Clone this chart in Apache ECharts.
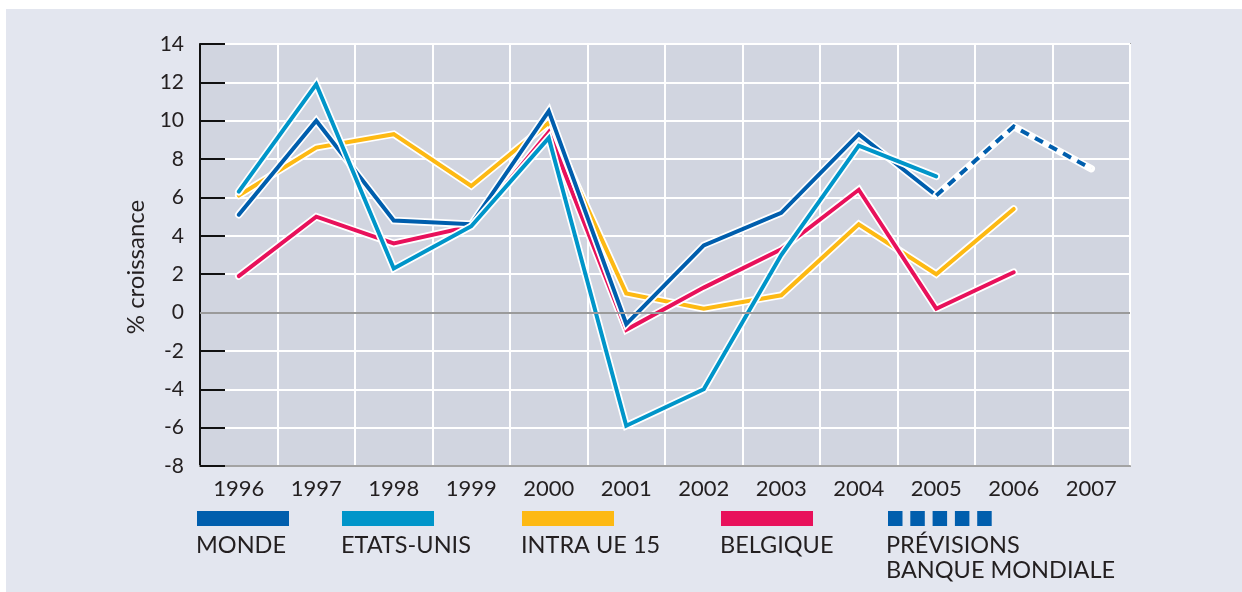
<!DOCTYPE html>
<html>
<head>
<meta charset="utf-8">
<script src="https://cdn.jsdelivr.net/npm/echarts@6/dist/echarts.min.js"></script>
<style>
  html, body { margin: 0; padding: 0; background: #fff; }
  #chart { width: 1242px; height: 592px; }
</style>
</head>
<body>
<div id="chart"></div>
<script>
const years = ["1996", "1997", "1998", "1999", "2000", "2001", "2002", "2003", "2004", "2005", "2006", "2007"];
const monde = [5.1, 10.0, 4.8, 4.6, 10.5, -0.6, 3.5, 5.2, 9.3, 6.1];
const etatsUnis = [6.3, 11.9, 2.3, 4.5, 9.1, -5.9, -4.0, 3.0, 8.7, 7.1];
const intraUe15 = [6.1, 8.6, 9.3, 6.6, 9.9, 1.0, 0.2, 0.9, 4.6, 2.0, 5.4];
const belgique = [1.9, 5.0, 3.6, 4.5, 9.4, -0.9, 1.3, 3.3, 6.4, 0.2, 2.1];
// prévisions Banque mondiale (monde) 2005-2007
const previsions = [6.1, 9.7, 7.5];
const previsionsStart = 9;
const yTicks = [-8, -6, -4, -2, 0, 2, 4, 6, 8, 10, 12, 14];

const FONT = "Lato, 'Open Sans', sans-serif";
const colors = {
  monde: "#005ead",
  etats: "#0095c9",
  intra: "#fdb913",
  belg: "#e8115b",
};

const prevData = years.map((y, i) =>
  i >= previsionsStart && i < previsionsStart + previsions.length ? previsions[i - previsionsStart] : null
);

function halo(data) {
  return {
    type: "line", data, symbol: "none", silent: true, connectNulls: false,
    lineStyle: { color: "#fff", width: 7.5, join: "miter", cap: "round" },
  };
}
function line(data, color, dashed) {
  return {
    type: "line", data, symbol: "none", silent: true,
    lineStyle: { color, width: 4, join: "miter", cap: dashed ? "butt" : "round", type: dashed ? [9, 7] : "solid" },
  };
}

const chart = echarts.init(document.getElementById("chart"));

// legend drawn as graphic: colored bar above label
const legendItems = [
  { x: 197, color: colors.monde, label: "MONDE" },
  { x: 342, color: colors.etats, label: "ETATS-UNIS" },
  { x: 522, color: colors.intra, label: "INTRA UE 15" },
  { x: 721, color: colors.belg, label: "BELGIQUE" },
];
const graphics = [
  { type: "rect", left: 6, top: 9, z: -10, shape: { width: 1236, height: 583 }, style: { fill: "#e3e6ef" } },
];
legendItems.forEach(it => {
  graphics.push({ type: "rect", shape: { x: it.x, y: 511, width: 92, height: 15 }, style: { fill: it.color } });
  graphics.push({ type: "text", x: it.x - 1, y: 533, style: { text: it.label, font: "23.5px " + FONT, fill: "#231f20" } });
});
for (let k = 0; k < 5; k++) {
  graphics.push({ type: "rect", shape: { x: 888 + k * 22.3, y: 511, width: 14.5, height: 15 }, style: { fill: colors.monde } });
}
graphics.push({ type: "text", x: 886, y: 533, style: { text: "PRÉVISIONS\nBANQUE MONDIALE", font: "23.5px " + FONT, lineHeight: 25, fill: "#231f20" } });

chart.setOption({
  backgroundColor: "#fff",
  animation: false,
  graphic: graphics,
  grid: {
    left: 200, right: 112, top: 44, bottom: 126,
    show: true, backgroundColor: "#d1d5e0", borderColor: "#a3a3a3", borderWidth: 2,
  },
  xAxis: {
    type: "category",
    data: years,
    boundaryGap: true,
    axisLine: { show: true, onZero: false, lineStyle: { color: "#a3a3a3", width: 2 } },
    axisTick: { show: false },
    axisLabel: { fontFamily: FONT, fontSize: 22, color: "#231f20", margin: 12 },
    splitLine: { show: true, lineStyle: { color: "#fff", width: 2 } },
  },
  yAxis: {
    type: "value",
    min: yTicks[0], max: yTicks[yTicks.length - 1], interval: 2,
    name: "% croissance",
    nameLocation: "middle",
    nameGap: 44,
    nameTextStyle: { fontFamily: FONT, fontSize: 24, color: "#231f20", padding: [0, 24, 0, 0] },
    axisLine: { show: true, lineStyle: { color: "#111", width: 2 } },
    axisTick: { show: true, inside: true, length: 25, lineStyle: { color: "#111", width: 2 } },
    axisLabel: { fontFamily: FONT, fontSize: 21, color: "#231f20", margin: 16 },
    splitLine: { show: true, lineStyle: { color: "#fff", width: 2 } },
  },
  series: [
    Object.assign(halo(intraUe15), {
      markLine: {
        silent: true, symbol: "none", label: { show: false },
        lineStyle: { color: "#9a9a9a", width: 2, type: "solid" },
        data: [{ yAxis: 0 }],
      },
    }),
    line(intraUe15, colors.intra),
    halo(belgique), line(belgique, colors.belg),
    halo(monde), line(monde, colors.monde),
    halo(prevData), line(prevData, colors.monde, true),
    halo(etatsUnis), line(etatsUnis, colors.etats),
  ],
});
</script>
</body>
</html>
